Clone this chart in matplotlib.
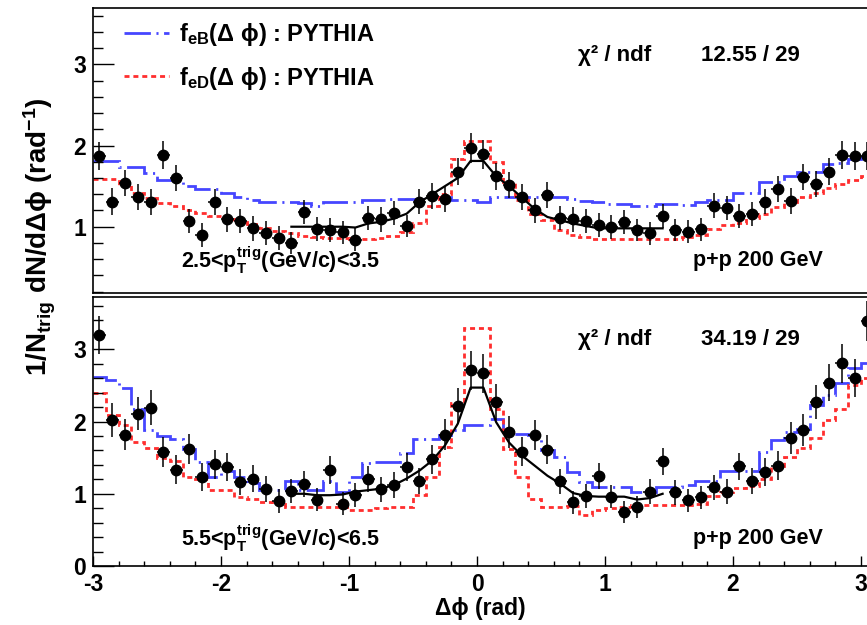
import numpy as np
import matplotlib
matplotlib.use("Agg")
import matplotlib.pyplot as plt
from matplotlib.lines import Line2D
from matplotlib.ticker import MultipleLocator


# =========================
# Data
# =========================

# 0.1 rad bins in delta phi; the last bin is mostly outside the frame
bin_edges = np.round(np.arange(-3.0, 3.15, 0.1), 2)
bin_centers = 0.5 * (bin_edges[:-1] + bin_edges[1:])

# upper panel: 2.5 < pT(trig) < 3.5 GeV/c
top_data = [1.87, 1.31, 1.54, 1.37, 1.31, 1.88, 1.60, 1.07, 0.90, 1.31,
            1.09, 1.07, 0.98, 0.92, 0.86, 0.80, 1.18, 0.97, 0.96, 0.93,
            0.84, 1.11, 1.09, 1.17, 1.01, 1.31, 1.38, 1.34, 1.68, 1.97,
            1.89, 1.62, 1.51, 1.36, 1.20, 1.39, 1.11, 1.09, 1.07, 1.02,
            1.00, 1.06, 0.96, 0.92, 1.13, 0.96, 0.94, 0.97, 1.26, 1.23,
            1.13, 1.16, 1.31, 1.47, 1.32, 1.61, 1.53, 1.68, 1.88, 1.87,
            1.87]
top_err = [0.17, 0.17, 0.16, 0.16, 0.16, 0.17, 0.16, 0.15, 0.15, 0.16,
           0.15, 0.15, 0.15, 0.15, 0.15, 0.14, 0.15, 0.15, 0.15, 0.14,
           0.14, 0.15, 0.15, 0.15, 0.14, 0.15, 0.16, 0.16, 0.17, 0.18,
           0.18, 0.17, 0.16, 0.16, 0.15, 0.16, 0.15, 0.15, 0.15, 0.15,
           0.15, 0.15, 0.14, 0.14, 0.15, 0.14, 0.14, 0.14, 0.15, 0.15,
           0.15, 0.15, 0.15, 0.16, 0.16, 0.16, 0.16, 0.17, 0.17, 0.17,
           0.17]
top_feB = [1.81, 1.81, 1.74, 1.74, 1.66, 1.58, 1.58, 1.50, 1.46, 1.46,
           1.41, 1.37, 1.33, 1.31, 1.31, 1.30, 1.29, 1.25, 1.31, 1.31,
           1.31, 1.33, 1.33, 1.34, 1.34, 1.34, 1.36, 1.37, 1.33, 1.33,
           1.31, 1.36, 1.36, 1.37, 1.37, 1.37, 1.36, 1.34, 1.32, 1.31,
           1.28, 1.28, 1.25, 1.25, 1.28, 1.28, 1.27, 1.30, 1.33, 1.33,
           1.42, 1.42, 1.55, 1.55, 1.62, 1.68, 1.68, 1.77, 1.79, 1.84,
           1.86]
top_feD = [1.59, 1.59, 1.51, 1.42, 1.35, 1.29, 1.25, 1.21, 1.17, 1.13,
           1.09, 1.06, 1.03, 0.99, 0.95, 0.92, 0.89, 0.87, 0.86, 0.86,
           0.85, 0.85, 0.86, 0.88, 0.93, 1.05, 1.25, 1.40, 1.83, 2.05,
           2.05, 1.80, 1.55, 1.33, 1.16, 1.08, 0.96, 0.90, 0.87, 0.85,
           0.85, 0.85, 0.85, 0.85, 0.85, 0.85, 0.87, 0.90, 0.97, 1.02,
           1.05, 1.11, 1.16, 1.24, 1.31, 1.36, 1.42, 1.48, 1.53, 1.58,
           1.62]
top_fit = [1.00, 1.00, 1.00, 1.00, 1.00, 0.99, 1.04, 1.06, 1.10, 1.16,
           1.30, 1.40, 1.50, 1.60, 1.81, 1.81, 1.62, 1.50, 1.36, 1.22,
           1.12, 1.08, 1.04, 1.01, 0.98, 0.98, 0.98, 0.98, 0.98, 0.98]

# lower panel: 5.5 < pT(trig) < 6.5 GeV/c
bot_data = [3.20, 2.02, 1.82, 2.11, 2.19, 1.58, 1.33, 1.62, 1.23, 1.41,
            1.37, 1.16, 1.21, 1.07, 0.90, 1.04, 1.13, 0.92, 1.33, 0.86,
            0.98, 1.21, 1.06, 1.12, 1.37, 1.18, 1.48, 1.82, 2.22, 2.71,
            2.67, 2.27, 1.85, 1.58, 1.81, 1.61, 1.17, 0.88, 0.97, 1.25,
            0.96, 0.75, 0.82, 1.03, 1.45, 1.02, 0.91, 0.95, 1.09, 1.03,
            1.38, 1.17, 1.30, 1.39, 1.77, 1.88, 2.27, 2.54, 2.81, 2.60,
            3.39]
bot_err = [0.26, 0.24, 0.22, 0.23, 0.24, 0.21, 0.20, 0.21, 0.19, 0.20,
           0.20, 0.18, 0.19, 0.18, 0.16, 0.17, 0.18, 0.16, 0.19, 0.16,
           0.17, 0.18, 0.17, 0.18, 0.19, 0.18, 0.20, 0.22, 0.24, 0.27,
           0.27, 0.25, 0.22, 0.20, 0.21, 0.20, 0.17, 0.16, 0.17, 0.18,
           0.16, 0.15, 0.15, 0.17, 0.19, 0.17, 0.16, 0.16, 0.17, 0.17,
           0.19, 0.18, 0.19, 0.20, 0.22, 0.22, 0.24, 0.26, 0.27, 0.26,
           0.28]
bot_feB = [2.62, 2.57, 2.46, 2.18, 1.88, 1.80, 1.76, 1.62, 1.44, 1.23,
           1.32, 1.23, 1.15, 1.05, 1.05, 1.17, 1.05, 1.05, 1.17, 1.03,
           1.23, 1.42, 1.44, 1.44, 1.56, 1.76, 1.76, 1.81, 1.88, 1.95,
           1.95, 2.04, 1.83, 1.83, 1.81, 1.60, 1.51, 1.30, 1.16, 1.09,
           1.09, 1.09, 1.02, 1.02, 1.10, 1.10, 1.12, 1.17, 1.17, 1.32,
           1.32, 1.32, 1.58, 1.74, 1.85, 1.90, 2.23, 2.37, 2.53, 2.74,
           2.81]
bot_feD = [2.39, 2.09, 1.95, 1.72, 1.63, 1.49, 1.45, 1.23, 1.21, 1.05,
           1.05, 0.96, 0.93, 0.88, 0.86, 0.82, 0.82, 0.82, 0.82, 0.82,
           0.78, 0.78, 0.80, 0.81, 0.81, 0.98, 1.23, 1.65, 2.25, 3.30,
           3.30, 2.18, 1.62, 1.23, 0.93, 0.81, 0.81, 0.83, 0.70, 0.77,
           0.80, 0.82, 0.84, 0.84, 0.84, 0.84, 0.84, 0.86, 0.97, 1.02,
           1.08, 1.11, 1.20, 1.39, 1.51, 1.63, 1.77, 2.02, 2.18, 2.50,
           2.60]
bot_fit = [1.00, 1.00, 0.98, 0.98, 0.99, 1.03, 1.05, 1.07, 1.12, 1.21,
           1.32, 1.46, 1.67, 1.97, 2.47, 2.47, 1.99, 1.71, 1.53, 1.39,
           1.25, 1.14, 1.01, 0.97, 0.96, 0.96, 0.96, 0.92, 0.94, 1.00]

# fit range: bins 15..44 (|dphi| < 1.5)
fit_first, fit_last = 15, 45

panels = [
    dict(data=top_data, err=top_err, feB=top_feB, feD=top_feD, fit=top_fit,
         chi2="12.55 / 29", ptbin=r"2.5<p$_{T}^{trig}$(GeV/c)<3.5"),
    dict(data=bot_data, err=bot_err, feB=bot_feB, feD=bot_feD, fit=bot_fit,
         chi2="34.19 / 29", ptbin=r"5.5<p$_{T}^{trig}$(GeV/c)<6.5"),
]


# =========================
# Style
# =========================

plt.rcParams["font.family"] = ["Liberation Sans", "DejaVu Sans"]
plt.rcParams["font.weight"] = "bold"
plt.rcParams["mathtext.fontset"] = "custom"
plt.rcParams["mathtext.rm"] = "Liberation Sans:bold"
plt.rcParams["mathtext.it"] = "Liberation Sans:bold"
plt.rcParams["mathtext.bf"] = "Liberation Sans:bold"
plt.rcParams["lines.scale_dashes"] = False
plt.rcParams["axes.unicode_minus"] = False

blue = "#4646ff"
red = "#ff2e2e"
blue_dash = (0, (19, 4, 1.5, 4))
red_dash = (0, (3.6, 2.8))

W, H = 867, 625
fig = plt.figure(figsize=(W / 100, H / 100), dpi=100)

# axes rectangles in pixels: (left, top, bottom); x scale 128 px/rad
x_left = 93
x_width = 6.1 * 128
ax_top = fig.add_axes([x_left / W, 1 - 293.3 / H, x_width / W, 285.0 / H])
ax_bot = fig.add_axes([x_left / W, 1 - 566.0 / H, x_width / W, 268.7 / H])

ylims = [(0.18, 3.69), (0.0, 3.72)]

for ax, p, ylim in zip([ax_top, ax_bot], panels, ylims):
    ax.stairs(p["feB"], bin_edges, baseline=None, color=blue, lw=2.0,
              linestyle=blue_dash)
    ax.stairs(p["feD"], bin_edges, baseline=None, color=red, lw=2.0,
              linestyle=red_dash)
    ax.plot(bin_centers[fit_first:fit_last], p["fit"], color="black", lw=1.6)
    ax.errorbar(bin_centers, p["data"], yerr=p["err"], xerr=0.05,
                fmt="o", color="black", ms=7.5, elinewidth=1.1, capsize=0)

    ax.set_xlim(-3.0, 3.1)
    ax.set_ylim(*ylim)

    ax.yaxis.set_major_locator(MultipleLocator(1))
    ax.yaxis.set_minor_locator(MultipleLocator(0.2))
    ax.xaxis.set_major_locator(MultipleLocator(1))
    ax.xaxis.set_minor_locator(MultipleLocator(0.2))
    ax.tick_params(axis="y", which="major", direction="in", length=15,
                   width=1.0, labelsize=16.5, pad=5)
    ax.tick_params(axis="y", which="minor", direction="in", length=7.5,
                   width=1.0)
    ax.tick_params(axis="x", which="major", direction="in", length=7,
                   width=1.0, labelsize=16.5, pad=5)
    ax.tick_params(axis="x", which="minor", direction="in", length=3.6,
                   width=1.0)
    for s in ax.spines.values():
        s.set_linewidth(1.2)

    ax.text(0.79, ylim[1] - 0.58, "χ² / ndf", fontsize=16, va="center")
    ax.text(1.75, ylim[1] - 0.58, p["chi2"], fontsize=16, va="center")
    ax.text(2.7, ylim[0] + (0.41 if ax is ax_top else 0.38), "p+p 200 GeV",
            fontsize=15.5, va="center", ha="right")
    ax.text(-2.31, ylim[0] + (0.41 if ax is ax_top else 0.38), p["ptbin"],
            fontsize=15.5, va="center")

# upper panel has no x labels / ticks
ax_top.tick_params(axis="x", which="both", length=0, labelbottom=False)

for lab in ax_top.get_yticklabels() + ax_bot.get_yticklabels() + ax_bot.get_xticklabels():
    lab.set_fontweight("bold")

handles = [
    Line2D([], [], color=blue, lw=2.0, linestyle=blue_dash),
    Line2D([], [], color=red, lw=2.0, linestyle=red_dash),
]
labels = [r"f$_{eB}$(Δ ϕ) : PYTHIA", r"f$_{eD}$(Δ ϕ) : PYTHIA"]
ax_top.legend(handles, labels, loc="upper left", bbox_to_anchor=(0.04, 0.955),
              frameon=False, fontsize=17, handlelength=1.9, handletextpad=0.4,
              labelspacing=0.7, borderpad=0, borderaxespad=0)

fig.text(40 / W, 1 - 237 / H, r"1/N$_{trig}$ dN/dΔϕ (rad$^{-1}$)",
         rotation=90, fontsize=20, ha="center", va="center")
fig.text(480 / W, 1 - 609 / H, "Δϕ (rad)", fontsize=16.5, ha="center",
         va="center")

fig.savefig("out.png", dpi=100)
